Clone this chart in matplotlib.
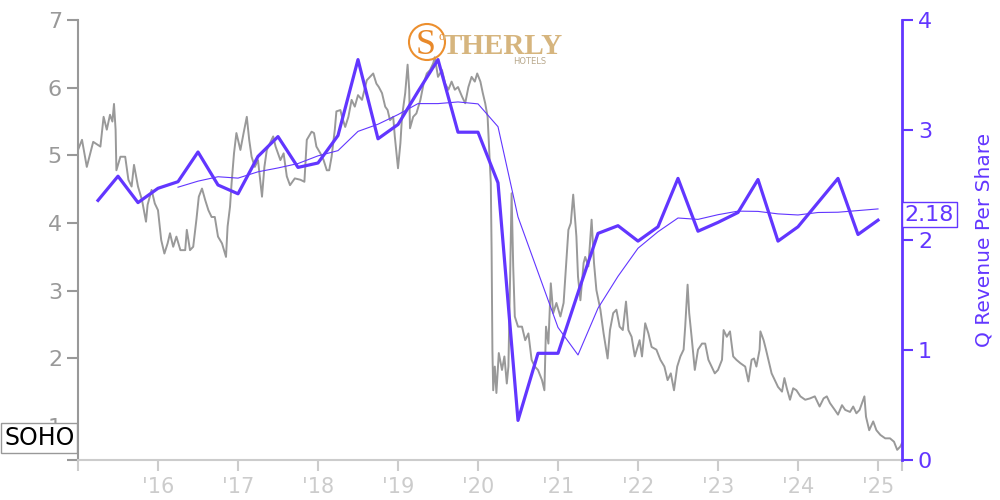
import matplotlib
matplotlib.use("Agg")
from matplotlib import pyplot as plt
from matplotlib.patches import Circle
import numpy as np
import pandas as pd

# quarterly revenue per share (right axis)
rev_dates = [2015.25 + 0.25 * i for i in range(40)]
rev_values = [2.36, 2.58, 2.34, 2.47, 2.53, 2.80, 2.50, 2.42, 2.76, 2.94,
              2.66, 2.70, 2.95, 3.64, 2.92, 3.05, 3.35, 3.64, 2.98, 2.98,
              2.52, 0.36, 0.97, 0.97, 1.52, 2.06, 2.13, 1.99, 2.12, 2.56,
              2.08, 2.16, 2.25, 2.55, 1.99, 2.12, 2.34, 2.56, 2.05, 2.18]

# share price (left axis)
price_dates = [
    2015.00, 2015.05, 2015.11, 2015.19, 2015.28, 2015.32, 2015.36, 2015.40, 2015.43, 2015.45,
    2015.47, 2015.48, 2015.53, 2015.59, 2015.63, 2015.67, 2015.70, 2015.75, 2015.80, 2015.85,
    2015.87, 2015.92, 2015.96, 2016.00, 2016.04, 2016.08, 2016.12, 2016.15, 2016.19, 2016.23,
    2016.28, 2016.34, 2016.36, 2016.40, 2016.44, 2016.48, 2016.51, 2016.55, 2016.59, 2016.63,
    2016.67, 2016.71, 2016.75, 2016.80, 2016.85, 2016.87, 2016.90, 2016.92, 2016.95, 2016.98,
    2017.03, 2017.07, 2017.11, 2017.14, 2017.17, 2017.21, 2017.25, 2017.30, 2017.33, 2017.36,
    2017.40, 2017.44, 2017.47, 2017.53, 2017.57, 2017.61, 2017.65, 2017.71, 2017.78, 2017.83,
    2017.86, 2017.92, 2017.95, 2017.98, 2018.03, 2018.07, 2018.11, 2018.14, 2018.17, 2018.21,
    2018.23, 2018.28, 2018.30, 2018.34, 2018.38, 2018.42, 2018.46, 2018.50, 2018.55, 2018.61,
    2018.65, 2018.69, 2018.73, 2018.76, 2018.80, 2018.84, 2018.87, 2018.90, 2018.94, 2018.96,
    2019.00, 2019.03, 2019.05, 2019.09, 2019.12, 2019.14, 2019.15, 2019.19, 2019.23, 2019.28,
    2019.32, 2019.36, 2019.40, 2019.44, 2019.46, 2019.50, 2019.55, 2019.59, 2019.63, 2019.67,
    2019.71, 2019.75, 2019.80, 2019.84, 2019.88, 2019.92, 2019.96, 2019.99, 2020.03, 2020.06,
    2020.09, 2020.12, 2020.14, 2020.16, 2020.17, 2020.18, 2020.19, 2020.21, 2020.23, 2020.26,
    2020.30, 2020.33, 2020.36, 2020.38, 2020.40, 2020.42, 2020.44, 2020.46, 2020.50, 2020.55,
    2020.59, 2020.63, 2020.67, 2020.71, 2020.75, 2020.80, 2020.83, 2020.85, 2020.88, 2020.91,
    2020.94, 2020.98, 2021.03, 2021.07, 2021.10, 2021.13, 2021.16, 2021.19, 2021.23, 2021.25,
    2021.28, 2021.32, 2021.34, 2021.38, 2021.42, 2021.45, 2021.48, 2021.53, 2021.57, 2021.62,
    2021.65, 2021.69, 2021.73, 2021.77, 2021.81, 2021.85, 2021.88, 2021.92, 2021.96, 2022.02,
    2022.05, 2022.09, 2022.13, 2022.17, 2022.23, 2022.28, 2022.33, 2022.37, 2022.41, 2022.45,
    2022.49, 2022.53, 2022.57, 2022.59, 2022.62, 2022.64, 2022.67, 2022.71, 2022.75, 2022.80,
    2022.84, 2022.88, 2022.92, 2022.96, 2023.00, 2023.05, 2023.07, 2023.11, 2023.15, 2023.19,
    2023.23, 2023.28, 2023.34, 2023.38, 2023.42, 2023.45, 2023.48, 2023.52, 2023.53, 2023.57,
    2023.60, 2023.63, 2023.67, 2023.71, 2023.75, 2023.80, 2023.83, 2023.86, 2023.90, 2023.94,
    2023.98, 2024.03, 2024.09, 2024.15, 2024.21, 2024.27, 2024.32, 2024.36, 2024.40, 2024.46,
    2024.50, 2024.55, 2024.59, 2024.65, 2024.69, 2024.73, 2024.77, 2024.80, 2024.83, 2024.85,
    2024.89, 2024.94, 2024.98, 2025.03, 2025.09, 2025.15, 2025.20, 2025.24, 2025.28, 2025.30,
]
price_values = [
    5.08, 5.23, 4.83, 5.20, 5.13, 5.57, 5.38, 5.60, 5.50, 5.76,
    5.38, 4.78, 4.98, 4.98, 4.64, 4.54, 4.86, 4.54, 4.34, 4.02,
    4.27, 4.49, 4.29, 4.19, 3.75, 3.55, 3.70, 3.85, 3.65, 3.80,
    3.60, 3.60, 3.90, 3.60, 3.65, 4.05, 4.39, 4.51, 4.34, 4.19,
    4.09, 4.09, 3.80, 3.70, 3.50, 3.95, 4.24, 4.59, 5.03, 5.33,
    5.08, 5.33, 5.57, 5.23, 4.98, 4.83, 4.93, 4.39, 4.83, 5.08,
    5.18, 5.28, 5.13, 4.93, 5.03, 4.69, 4.56, 4.66, 4.64, 4.61,
    5.23, 5.35, 5.33, 5.13, 5.03, 4.93, 4.78, 4.78, 4.98, 5.38,
    5.65, 5.67, 5.57, 5.42, 5.57, 5.82, 5.72, 5.89, 5.82, 6.11,
    6.16, 6.21, 6.06, 6.01, 5.92, 5.72, 5.67, 5.52, 5.57, 5.28,
    4.81, 5.18, 5.57, 5.92, 6.34, 5.97, 5.40, 5.57, 5.62, 5.82,
    6.06, 6.21, 6.26, 6.36, 6.45, 6.16, 6.26, 6.06, 5.97, 6.09,
    5.97, 6.01, 5.87, 5.77, 6.01, 6.16, 6.09, 6.21, 6.09, 5.92,
    5.77, 5.57, 5.08, 4.59, 3.60, 2.13, 1.53, 1.88, 1.49, 2.08,
    1.83, 2.03, 1.63, 1.88, 3.11, 4.44, 3.36, 2.62, 2.47, 2.47,
    2.27, 2.37, 1.98, 1.88, 1.83, 1.68, 1.53, 2.47, 2.22, 3.11,
    2.67, 2.82, 2.62, 2.82, 3.36, 3.90, 4.00, 4.42, 3.80, 3.21,
    2.86, 3.41, 3.50, 3.36, 4.05, 3.41, 3.01, 2.72, 2.37, 2.00,
    2.42, 2.67, 2.72, 2.47, 2.42, 2.84, 2.42, 2.32, 2.03, 2.27,
    2.03, 2.52, 2.37, 2.17, 2.13, 1.98, 1.88, 1.68, 1.78, 1.53,
    1.88, 2.03, 2.13, 2.47, 3.09, 2.67, 2.32, 1.83, 2.13, 2.22,
    2.22, 1.98, 1.88, 1.78, 1.83, 1.98, 2.42, 2.32, 2.40, 2.03,
    1.98, 1.93, 1.88, 1.66, 1.98, 2.00, 1.88, 2.13, 2.40, 2.27,
    2.13, 1.98, 1.78, 1.68, 1.58, 1.51, 1.71, 1.56, 1.39, 1.56,
    1.53, 1.44, 1.39, 1.41, 1.44, 1.29, 1.41, 1.44, 1.34, 1.24,
    1.17, 1.31, 1.24, 1.21, 1.29, 1.19, 1.24, 1.34, 1.44, 1.14,
    0.94, 1.07, 0.94, 0.87, 0.82, 0.82, 0.77, 0.65, 0.70, 0.75,
]

year_ticks = list(range(2016, 2026))
year_labels = ["'" + str(y)[2:] for y in year_ticks]

PURPLE = '#6236ff'
GRAY = '#999999'
LIGHT = '#cccccc'

rev = pd.Series(rev_values, index=rev_dates)
rev_avg = rev.rolling(4).mean().loc[2016.25:]

fig = plt.figure(figsize=(10, 5), dpi=100)
ax = fig.add_axes([0.078, 0.08, 0.824, 0.88])
ax2 = ax.twinx()

ax.plot(price_dates, price_values, color=GRAY, lw=1.4)
ax2.plot(rev.index, rev.values, color=PURPLE, lw=2.3)
ax2.plot(rev_avg.index, rev_avg.values, color=PURPLE, lw=0.8)

x0, x1 = 2015.0, 2025.3
ax.set_xlim(x0, x1)
ax.set_ylim(0.5, 7)
ax2.set_ylim(0, 4)

ax.set_xticks([x0] + year_ticks + [x1])
ax.set_xticklabels([''] + year_labels + [''])
ax.set_yticks([0.5, 1, 2, 3, 4, 5, 6, 7])
ax.set_yticklabels(['', '1', '2', '3', '4', '5', '6', '7'])
ax2.set_yticks([0, 1, 2, 3, 4])

for a in (ax, ax2):
    a.spines['top'].set_visible(False)
ax.spines['right'].set_visible(False)
ax2.spines['left'].set_visible(False)
ax2.spines['bottom'].set_visible(False)
ax.spines['left'].set_color(GRAY)
ax.spines['left'].set_linewidth(1.5)
ax.spines['bottom'].set_color(LIGHT)
ax.spines['bottom'].set_linewidth(1.5)
ax2.spines['right'].set_color(PURPLE)
ax2.spines['right'].set_linewidth(2)

ax.tick_params(axis='y', colors=GRAY, labelsize=16, length=8, width=1.5)
ax.tick_params(axis='x', colors=LIGHT, labelsize=15, length=8, width=1.5, pad=4)
ax2.tick_params(axis='y', colors=PURPLE, labelsize=16, length=8, width=1.5)
ax2.set_ylabel('Q Revenue Per Share', color=PURPLE, fontsize=14.5)
ax2.yaxis.set_label_coords(1.088, 0.5)

# ticker label and last value
fig.text(0.004, 0.124, 'SOHO', fontsize=17, color='black',
         ha='left', va='center', zorder=10,
         bbox=dict(boxstyle='square,pad=0.12', fc='white', ec=GRAY, lw=1))
ax2.text(1.003, rev_values[-1] + 0.05, '%.2f' % rev_values[-1], transform=ax2.get_yaxis_transform(),
         fontsize=16, color=PURPLE, ha='left', va='center', zorder=10, clip_on=False,
         bbox=dict(boxstyle='square,pad=0.12', fc='white', ec=PURPLE, lw=1))

# logo
fig.patches.append(Circle((427, 458), 18, transform=None, fill=False, ec='#ec8f2e', lw=1.5))
fig.text(0.426, 0.91, 'S', fontsize=26, color='#e8892a', family='Liberation Serif',
         ha='center', va='center')
fig.text(0.4385, 0.925, 'o', fontsize=9, color='#e8892a', family='Liberation Serif',
         ha='left', va='center')
fig.text(0.443, 0.908, 'THERLY', fontsize=21, color='#d6b57e', family='Liberation Serif',
         fontweight='bold', ha='left', va='center')
fig.text(0.530, 0.876, 'HOTELS', fontsize=6, color='#b8a88c', ha='center', va='center')

fig.savefig('out.png', dpi=100)
